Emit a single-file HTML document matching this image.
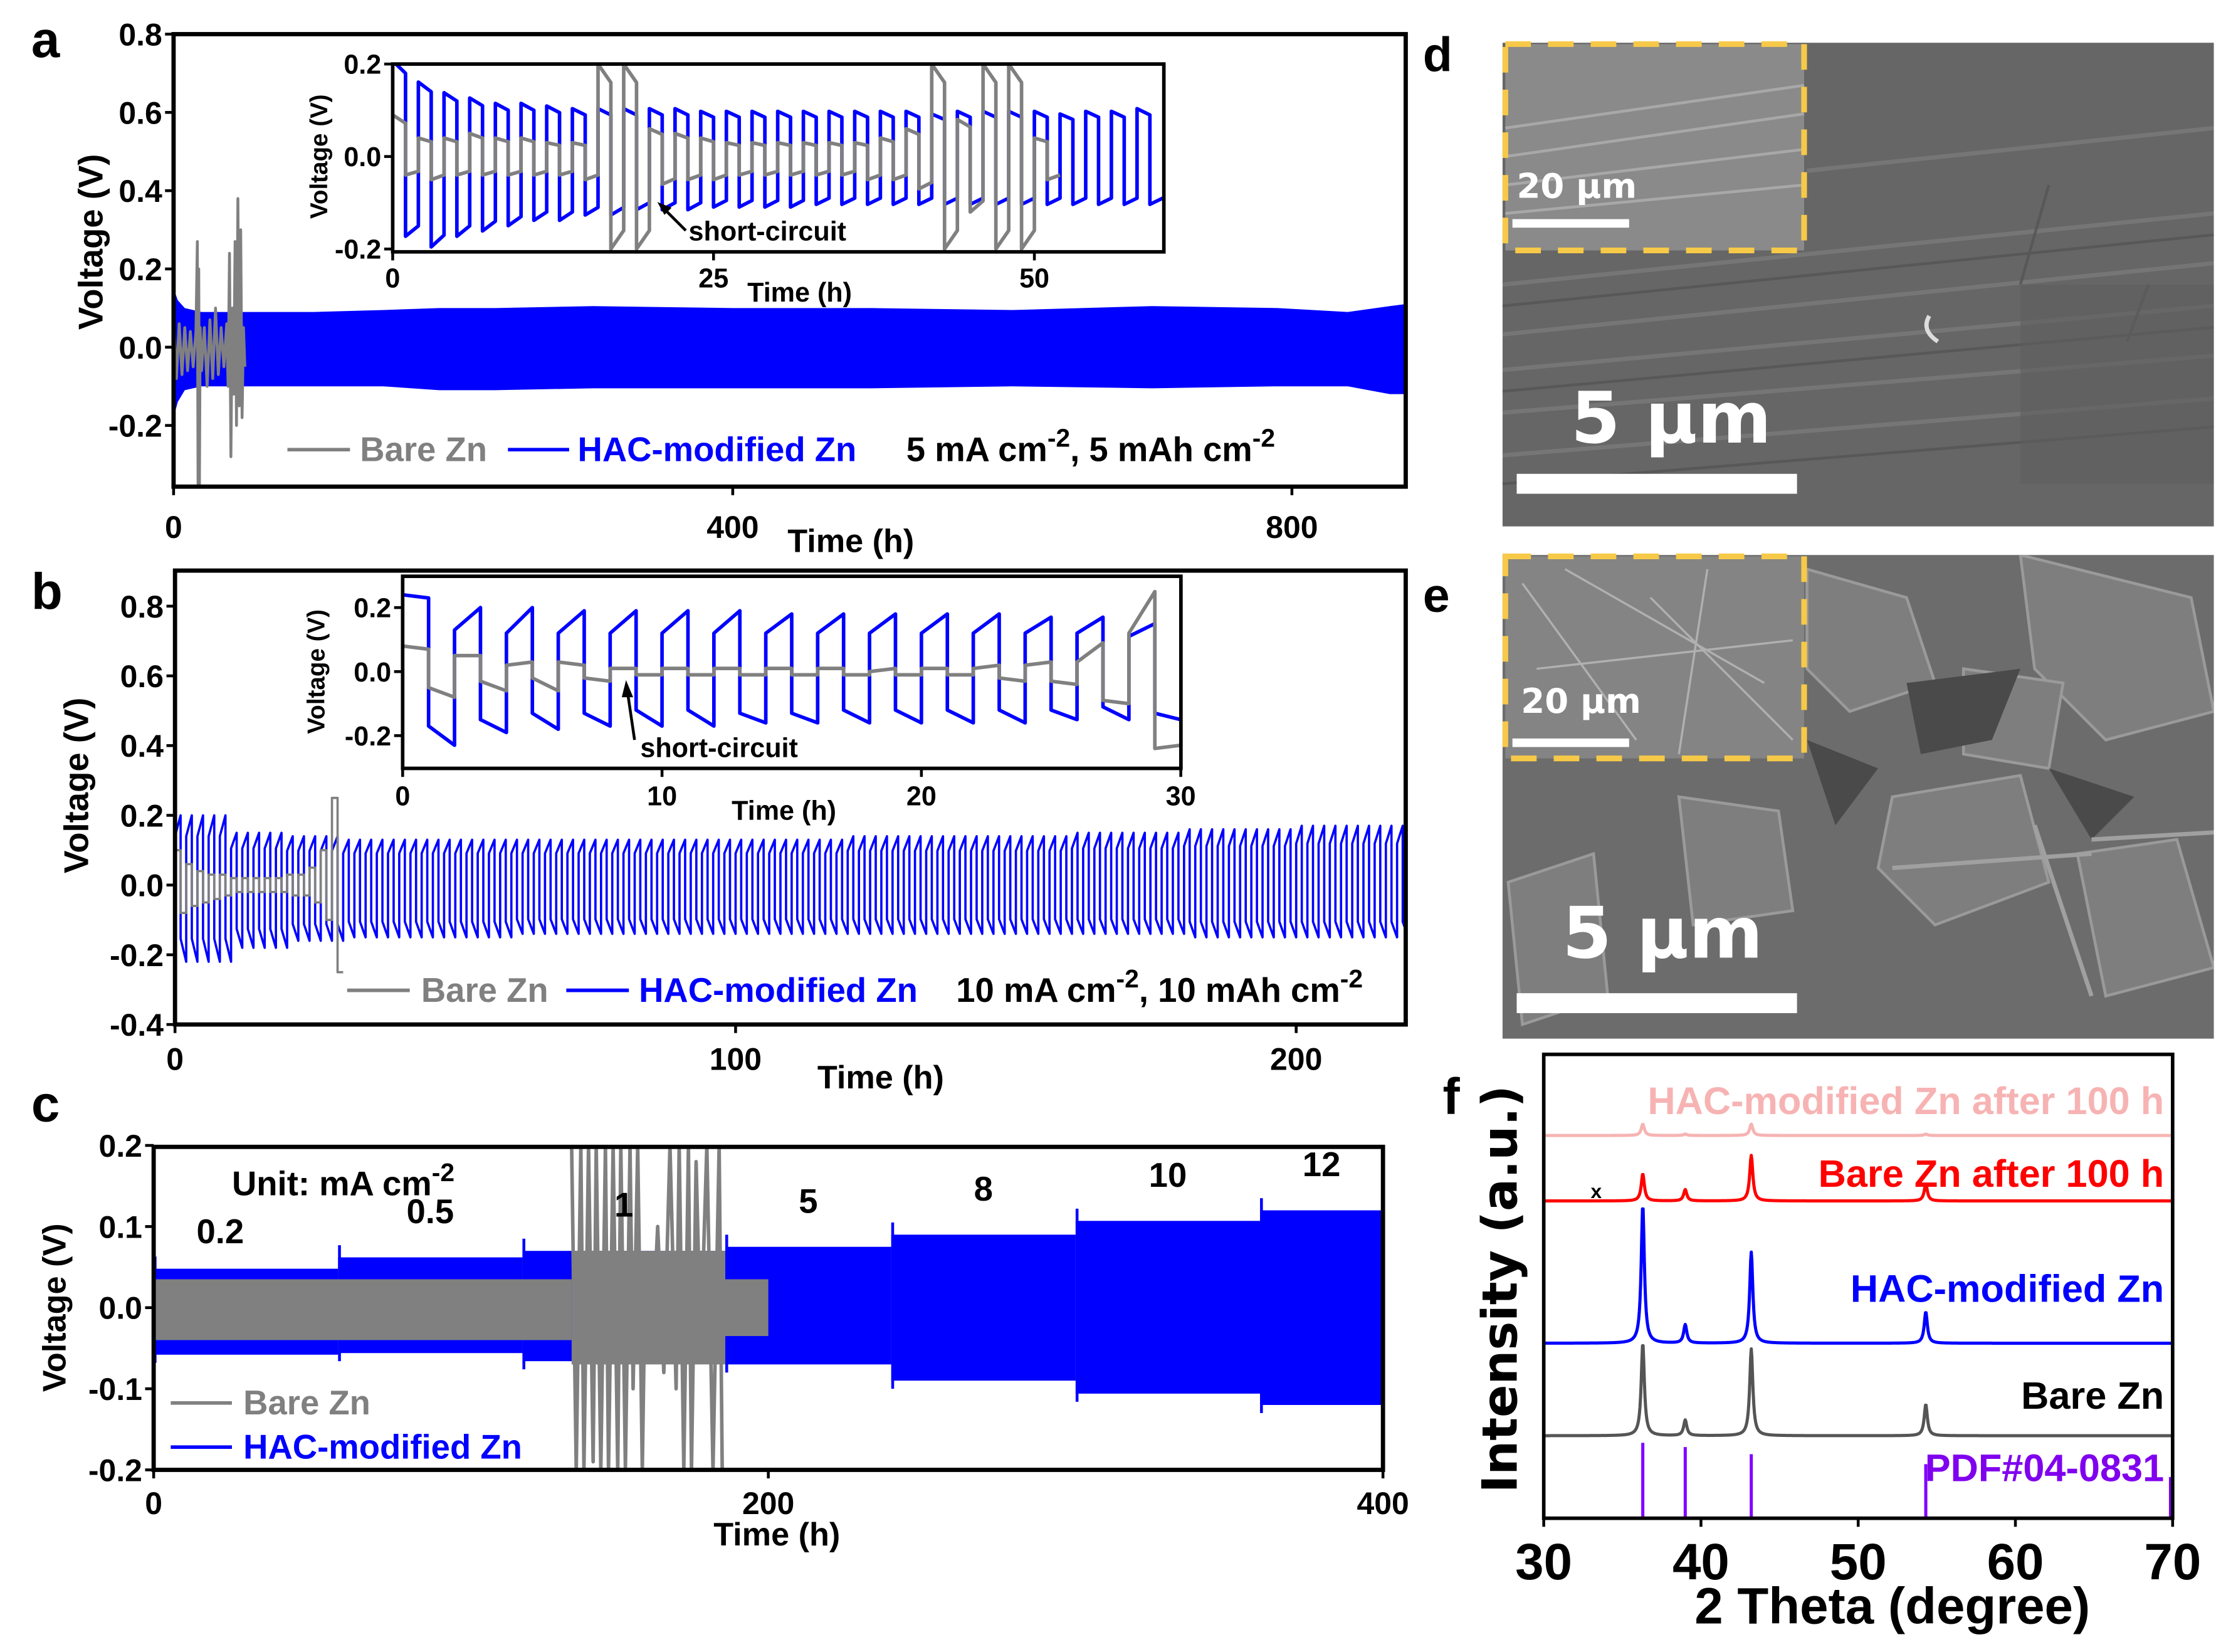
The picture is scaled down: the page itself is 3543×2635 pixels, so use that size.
<!DOCTYPE html>
<html><head><meta charset="utf-8"><style>
html,body{margin:0;padding:0;background:#fff;}
svg{display:block;}
text{font-family:"Liberation Sans",sans-serif;font-weight:bold;}
.n{font-family:"Liberation Sans Narrow","Liberation Sans",sans-serif;}
.v{font-family:"DejaVu Sans","Liberation Sans",sans-serif;}
</style></head><body>
<svg id="fig" xmlns="http://www.w3.org/2000/svg" width="3543" height="2635" viewBox="0 0 1561 1161" preserveAspectRatio="none">
<rect x="0" y="0" width="1561" height="1161" fill="#fff"/>
<defs>
<clipPath id="clipA"><rect x="122" y="24" width="866" height="318"/></clipPath>
<clipPath id="clipAi"><rect x="276" y="45" width="542" height="132"/></clipPath>
<clipPath id="clipB"><rect x="123" y="401" width="865" height="319"/></clipPath>
<clipPath id="clipBi"><rect x="283" y="405" width="547" height="135"/></clipPath>
<clipPath id="clipC"><rect x="108" y="806" width="864" height="227"/></clipPath>
<clipPath id="clipF"><rect x="1085" y="741" width="442" height="326"/></clipPath>
<clipPath id="clipD"><rect x="1056" y="30" width="500" height="340"/></clipPath>
<clipPath id="clipE"><rect x="1056" y="390" width="500" height="340"/></clipPath>
</defs>

<!-- SEM d -->
<g clip-path="url(#clipD)">
<rect x="1056" y="30" width="500" height="340" fill="#666"/>
<g stroke="#7a7a7a" stroke-width="3" fill="none" opacity="0.8">
<path d="M1056 200 L1556 150"/><path d="M1056 235 L1556 185"/><path d="M1056 260 L1556 215"/><path d="M1056 290 L1556 250"/><path d="M1056 320 L1556 280"/><path d="M1270 120 L1556 90"/>
</g>
<g stroke="#555" stroke-width="2" fill="none" opacity="0.8">
<path d="M1056 215 L1556 165"/><path d="M1056 275 L1556 230"/><path d="M1056 340 L1556 300"/><path d="M1440 130 L1420 200"/><path d="M1510 200 L1495 240"/>
</g>
<rect x="1420" y="200" width="136" height="140" fill="#5e5e5e" opacity="0.6"/>
<path d="M1356 222 q-6 10 6 18" stroke="#ddd" stroke-width="3" fill="none"/>
</g>
<g>
<rect x="1058" y="31" width="210" height="145" fill="#8a8a8a"/>
<g stroke="#a8a8a8" stroke-width="2" fill="none"><path d="M1058 90 L1268 60"/><path d="M1058 110 L1268 80"/><path d="M1058 130 L1268 105"/><path d="M1058 150 L1268 130"/></g>
<rect x="1058" y="31" width="210" height="145" fill="none" stroke="#f7c948" stroke-width="4" stroke-dasharray="18 12"/>
<text class="v" x="1066" y="139" font-size="24" fill="#fff">20 μm</text>
<rect x="1063" y="154" width="82" height="6" fill="#fff"/>
</g>
<text class="v" x="1104" y="311" font-size="50" fill="#fff">5 μm</text>
<rect x="1066" y="333" width="197" height="14" fill="#fff"/>
<text x="1000" y="50" font-size="34" fill="#000">d</text>

<!-- SEM e -->
<g clip-path="url(#clipE)">
<rect x="1056" y="390" width="500" height="340" fill="#6c6c6c"/>
<g fill="#7e7e7e" stroke="#9a9a9a" stroke-width="2">
<path d="M1270 400 L1340 420 L1360 480 L1300 500 L1270 470Z"/>
<path d="M1420 390 L1540 420 L1556 500 L1480 520 L1430 470Z"/>
<path d="M1330 560 L1420 545 L1440 620 L1360 650 L1320 610Z"/>
<path d="M1460 600 L1530 590 L1556 680 L1480 700Z"/>
<path d="M1180 560 L1250 570 L1260 640 L1190 650Z"/>
<path d="M1060 620 L1120 600 L1130 700 L1070 720Z"/>
<path d="M1380 470 L1450 480 L1440 540 L1380 530Z"/>
</g>
<g fill="#4a4a4a"><path d="M1340 480 L1420 470 L1400 520 L1350 530Z"/><path d="M1270 520 L1320 540 L1290 580Z"/><path d="M1440 540 L1500 560 L1470 590Z"/></g>
<g stroke="#a0a0a0" stroke-width="3"><path d="M1430 580 L1470 700"/><path d="M1330 610 L1470 600"/><path d="M1470 590 L1556 585"/></g>
</g>
<g>
<rect x="1058" y="391" width="210" height="142" fill="#848484"/>
<g stroke="#b0b0b0" stroke-width="1.5" fill="none"><path d="M1070 410 L1150 520"/><path d="M1100 400 L1240 480"/><path d="M1160 420 L1260 520"/><path d="M1080 470 L1260 450"/><path d="M1200 400 L1180 530"/></g>
<rect x="1058" y="391" width="210" height="142" fill="none" stroke="#f7c948" stroke-width="4" stroke-dasharray="18 12"/>
<text class="v" x="1069" y="501" font-size="24" fill="#fff">20 μm</text>
<rect x="1063" y="519" width="82" height="6" fill="#fff"/>
</g>
<text class="v" x="1098" y="673" font-size="50" fill="#fff">5 μm</text>
<rect x="1066" y="698" width="197" height="14" fill="#fff"/>
<text x="1000" y="430" font-size="34" fill="#000">e</text>

<!-- Panel a -->
<g id="pa">
<text x="22" y="40" font-size="36">a</text>
<g id="aData" clip-path="url(#clipA)"></g>
<rect x="122" y="24" width="866" height="318" fill="none" stroke="#000" stroke-width="3"/>
<g id="aTicks" class="n" font-size="22"></g>
<text class="n" x="598" y="388" font-size="23" text-anchor="middle">Time (h)</text>
<text x="72" y="170" font-size="24" text-anchor="middle" transform="rotate(-90 72 170)">Voltage (V)</text>
<rect x="276" y="45" width="542" height="132" fill="#fff"/>
<g id="aiData" clip-path="url(#clipAi)"></g>
<rect x="276" y="45" width="542" height="132" fill="none" stroke="#000" stroke-width="2.5"/>
<g id="aiTicks" class="n" font-size="19"></g>
<text class="n" x="562" y="212" font-size="19" text-anchor="middle">Time (h)</text>
<text x="230" y="110" font-size="17" text-anchor="middle" transform="rotate(-90 230 110)">Voltage (V)</text>
<text class="n" x="484" y="169" font-size="19">short-circuit</text>
<path d="M482 162 L466 146" stroke="#000" stroke-width="2"/>
<path d="M462 142 L472 146 L467 151Z" fill="#000"/>
<g>
<line x1="202" y1="316" x2="246" y2="316" stroke="#808080" stroke-width="2.5"/>
<text class="n" x="253" y="324" font-size="24" fill="#808080">Bare Zn</text>
<line x1="357" y1="316" x2="400" y2="316" stroke="#0000ff" stroke-width="2.5"/>
<text class="n" x="406" y="324" font-size="24" fill="#0000ff">HAC-modified Zn</text>
<text class="n" x="637" y="324" font-size="24">5 mA cm<tspan dy="-10" font-size="18">-2</tspan><tspan dy="10">, 5 mAh cm</tspan><tspan dy="-10" font-size="18">-2</tspan></text>
</g>
</g>

<!-- Panel b -->
<g id="pb">
<text x="22" y="428" font-size="36">b</text>
<g id="bData" clip-path="url(#clipB)"></g>
<rect x="123" y="401" width="865" height="319" fill="none" stroke="#000" stroke-width="3"/>
<g id="bTicks" class="n" font-size="22"></g>
<text class="n" x="619" y="765" font-size="23" text-anchor="middle">Time (h)</text>
<text x="62" y="552" font-size="24" text-anchor="middle" transform="rotate(-90 62 552)">Voltage (V)</text>
<rect x="283" y="405" width="547" height="135" fill="#fff"/>
<g id="biData" clip-path="url(#clipBi)"></g>
<rect x="283" y="405" width="547" height="135" fill="none" stroke="#000" stroke-width="2.5"/>
<g id="biTicks" class="n" font-size="19"></g>
<text class="n" x="551" y="576" font-size="19" text-anchor="middle">Time (h)</text>
<text x="228" y="472" font-size="17" text-anchor="middle" transform="rotate(-90 228 472)">Voltage (V)</text>
<text class="n" x="450" y="532" font-size="19">short-circuit</text>
<path d="M446 520 L441 486" stroke="#000" stroke-width="2"/>
<path d="M440 478 L445 490 L437 490Z" fill="#000"/>
<g>
<line x1="244" y1="696" x2="288" y2="696" stroke="#808080" stroke-width="2.5"/>
<text class="n" x="296" y="704" font-size="24" fill="#808080">Bare Zn</text>
<line x1="398" y1="696" x2="442" y2="696" stroke="#0000ff" stroke-width="2.5"/>
<text class="n" x="449" y="704" font-size="24" fill="#0000ff">HAC-modified Zn</text>
<text class="n" x="672" y="704" font-size="24">10 mA cm<tspan dy="-10" font-size="18">-2</tspan><tspan dy="10">, 10 mAh cm</tspan><tspan dy="-10" font-size="18">-2</tspan></text>
</g>
</g>

<!-- Panel c -->
<g id="pc">
<text x="22" y="788" font-size="36">c</text>
<g id="cData" clip-path="url(#clipC)"></g>
<rect x="108" y="806" width="864" height="227" fill="none" stroke="#000" stroke-width="3"/>
<g id="cTicks" class="n" font-size="22"></g>
<text class="n" x="546" y="1086" font-size="23" text-anchor="middle">Time (h)</text>
<text x="46" y="919" font-size="23" text-anchor="middle" transform="rotate(-90 46 919)">Voltage (V)</text>
<text class="n" x="163" y="840" font-size="24">Unit: mA cm<tspan dy="-10" font-size="18">-2</tspan></text>
<g id="cRateLabels" class="n" font-size="24"></g>
<g>
<line x1="120" y1="986" x2="163" y2="986" stroke="#808080" stroke-width="2.5"/>
<text class="n" x="171" y="994" font-size="24" fill="#808080">Bare Zn</text>
<line x1="120" y1="1017" x2="163" y2="1017" stroke="#0000ff" stroke-width="2.5"/>
<text class="n" x="171" y="1025" font-size="24" fill="#0000ff">HAC-modified Zn</text>
</g>
</g>

<!-- Panel f -->
<g id="pf">
<text x="1014" y="783" font-size="36">f</text>
<g id="fData" clip-path="url(#clipF)"></g>
<rect x="1085" y="741" width="442" height="326" fill="none" stroke="#000" stroke-width="2.5"/>
<g id="fTicks" font-size="36"></g>
<text x="1330" y="1141" font-size="36" text-anchor="middle">2 Theta (degree)</text>
<text class="v" x="1066" y="906" font-size="34" text-anchor="middle" transform="rotate(-90 1066 906)">Intensity (a.u.)</text>
<g id="fLabels" font-size="27"></g>
<text x="1118" y="842" font-size="14">x</text>
</g>

<script>
const NS='http://www.w3.org/2000/svg';
function mk(tag,parent){const e=document.createElementNS(NS,tag);document.getElementById(parent).appendChild(e);return e;}
function lin(d0,d1,r0,r1){return v=>r0+(v-d0)*(r1-r0)/(d1-d0);}

/* ---------- Panel a data ---------- */
const aEnvTime=[0,3,8,20,50,100,150,190,230,300,400,500,600,700,790,840,870,881];
const aEnvUpper=[0.15,0.12,0.1,0.09,0.09,0.09,0.095,0.1,0.1,0.105,0.1,0.1,0.095,0.105,0.1,0.09,0.105,0.11];
const aEnvLower=[-0.18,-0.14,-0.11,-0.1,-0.1,-0.1,-0.1,-0.11,-0.11,-0.105,-0.105,-0.105,-0.1,-0.105,-0.1,-0.1,-0.12,-0.12];
const aBareTime=[0,2,4,6,8,10,12,14,16,17,17.5,18,18.5,19,20,22,24,26,28,30,32,34,36,38,39,40,41,42,43,44,45,46,47,48,49,50,51];
const aBareVolt=[0.07,-0.08,0.06,-0.07,0.05,-0.06,0.04,-0.05,0.04,0.27,-0.35,0.2,-0.35,0.05,-0.06,0.05,-0.1,0.07,-0.08,0.1,-0.07,0.05,-0.05,0.06,-0.1,0.24,-0.28,0.1,-0.12,0.27,-0.2,0.38,-0.15,0.3,-0.18,0.05,-0.05];
const aInsetHigh=[0.18,0.14,0.12,0.11,0.1,0.1,0.095,0.09,0.09,0.09,0.09,0.09,0.085,0.085,0.085,0.085,0.085,0.085,0.085,0.085,0.085,0.08,0.085,0.085,0.085,0.085,0.08,0.085,0.085,0.09];
const aInsetLow=[-0.15,-0.17,-0.15,-0.14,-0.13,-0.12,-0.12,-0.11,-0.11,-0.1,-0.1,-0.1,-0.095,-0.095,-0.095,-0.095,-0.09,-0.09,-0.09,-0.09,-0.09,-0.09,-0.09,-0.09,-0.09,-0.09,-0.09,-0.09,-0.09,-0.09];
const aInsetBareHigh=[0.09,0.04,0.04,0.05,0.04,0.04,0.03,0.03,0.2,0.2,0.06,0.05,0.04,0.03,0.03,0.03,0.03,0.03,0.03,0.04,0.06,0.2,0.08,0.2,0.2,0.04];
const aInsetBareLow=[-0.04,-0.05,-0.04,-0.04,-0.04,-0.04,-0.04,-0.05,-0.2,-0.2,-0.06,-0.05,-0.05,-0.04,-0.04,-0.04,-0.04,-0.04,-0.05,-0.05,-0.07,-0.2,-0.12,-0.2,-0.2,-0.05];
const aYTicks=[0.8,0.6,0.4,0.2,0.0,-0.2];
const aXTicks=[0,400,800];
const aiYTicks=[0.2,0.0,-0.2];
const aiXTicks=[0,25,50];

/* ---------- Panel b data ---------- */
const bBlockHigh=[0.2,0.15,0.14,0.13,0.13,0.13,0.13,0.13,0.13,0.13,0.13,0.13,0.14,0.14,0.14,0.14,0.15,0.15,0.16,0.16,0.17,0.17];
const bBlockLow=[-0.22,-0.18,-0.16,-0.15,-0.15,-0.15,-0.14,-0.14,-0.14,-0.14,-0.14,-0.14,-0.14,-0.14,-0.14,-0.14,-0.14,-0.14,-0.15,-0.15,-0.15,-0.15];
const bBareHigh=[0.1,0.06,0.04,0.03,0.03,0.02,0.02,0.02,0.02,0.02,0.03,0.03,0.05,0.1,0.25];
const bBareLow=[-0.08,-0.06,-0.05,-0.04,-0.03,-0.02,-0.02,-0.02,-0.02,-0.02,-0.03,-0.03,-0.05,-0.1,-0.25];
const biHighStart=[0.24,0.13,0.12,0.12,0.12,0.12,0.12,0.12,0.12,0.12,0.12,0.12,0.12,0.12,0.11];
const biHighEnd=[0.23,0.2,0.2,0.19,0.19,0.19,0.19,0.18,0.18,0.18,0.18,0.18,0.17,0.17,0.15];
const biLowStart=[-0.17,-0.15,-0.13,-0.13,-0.12,-0.12,-0.13,-0.13,-0.12,-0.12,-0.12,-0.12,-0.12,-0.11,-0.13];
const biLowEnd=[-0.23,-0.19,-0.18,-0.17,-0.17,-0.17,-0.16,-0.16,-0.16,-0.16,-0.16,-0.16,-0.15,-0.15,-0.15];
const biBareStart=[0.08,-0.05,0.05,-0.03,0.02,-0.02,0.03,-0.02,0.01,-0.01,0.01,-0.01,0.01,-0.01,0.01,-0.01,0.01,-0.01,0.0,-0.01,0.01,-0.01,0.01,-0.02,0.02,-0.03,0.03,-0.09,0.12,-0.24];
const biBareEnd=[0.07,-0.08,0.05,-0.06,0.03,-0.06,0.02,-0.03,0.01,-0.01,0.01,-0.01,0.01,-0.01,0.01,-0.01,0.01,-0.01,0.01,-0.01,0.01,-0.01,0.02,-0.03,0.03,-0.04,0.09,-0.1,0.25,-0.23];
const bYTicks=[0.8,0.6,0.4,0.2,0.0,-0.2,-0.4];
const bXTicks=[0,100,200];
const biYTicks=[0.2,0.0,-0.2];
const biXTicks=[0,10,20,30];

/* ---------- Panel c data ---------- */
const cSegStart=[0,60,120,186,240,300,360];
const cSegEnd=[60,120,186,240,300,360,400];
const cSegUpper=[0.048,0.062,0.07,0.075,0.09,0.107,0.12];
const cSegLower=[-0.058,-0.056,-0.066,-0.07,-0.09,-0.106,-0.12];
const cRateNames=['0.2','0.5','1','5','8','10','12'];
const cBareBandStart=[0,136,186];
const cBareBandEnd=[136,186,200];
const cBareBandUpper=[0.035,0.07,0.035];
const cBareBandLower=[-0.04,-0.07,-0.035];
const cChaosTime=[136,137.5,139,140,141.5,143,144,145.5,147,148,149.5,151,152,153.5,155,156,157.5,159,160,162,164,166,168,170,171,172.5,174,175,176.5,178,180,182,184,185];
const cChaosVolt=[0.2,-0.2,0.2,-0.2,0.2,-0.19,0.2,-0.2,0.2,-0.2,0.2,-0.2,0.2,-0.2,0.2,-0.1,0.2,-0.2,0.06,-0.06,0.1,-0.08,0.2,-0.1,0.2,-0.2,0.2,-0.2,0.18,-0.05,0.2,-0.2,0.2,-0.2];
const cYTicks=[0.2,0.1,0.0,-0.1,-0.2];
const cXTicks=[0,200,400];

/* ---------- Panel f data ---------- */
const fPeakPos=[36.3,39.0,43.2,54.3];
const fPinkHeights=[8,1,8,1];
const fRedHeights=[19,8,32,12];
const fBlueHeights=[97,13,64,22];
const fGrayHeights=[65,11,61,22];
const fStickPos=[36.3,39.0,43.2,54.3,70.0];
const fStickHeights=[53,50,45,38,29];
const fXTicks=[30,40,50,60,70];

/* ---------- helpers ---------- */
function yTicks(gid,vals,ys,xLeft,fs,fmt){vals.forEach(v=>{const t=mk('line',gid);t.setAttribute('x1',xLeft-6);t.setAttribute('x2',xLeft);t.setAttribute('y1',ys(v));t.setAttribute('y2',ys(v));t.setAttribute('stroke','#000');t.setAttribute('stroke-width','2');


const l=mk('text',gid);l.setAttribute('x',xLeft-8);l.setAttribute('y',ys(v)+fs*0.36);l.setAttribute('text-anchor','end');l.textContent=fmt(v);

});}
function xTicks(gid,vals,xs,yBot,ly,fmt){vals.forEach(v=>{const t=mk('line',gid);t.setAttribute('x1',xs(v));t.setAttribute('x2',xs(v));t.setAttribute('y1',yBot);t.setAttribute('y2',yBot+6);t.setAttribute('stroke','#000');t.setAttribute('stroke-width','2');


const l=mk('text',gid);l.setAttribute('x',xs(v));l.setAttribute('y',ly);l.setAttribute('text-anchor','middle');l.textContent=fmt(v);

});}
const f1=v=>v.toFixed(1), f0=v=>String(v);
function pathLine(gid,d,color,w){const p=mk('path',gid);p.setAttribute('d',d);p.setAttribute('fill','none');p.setAttribute('stroke',color);p.setAttribute('stroke-width',w);p.setAttribute('stroke-linejoin','round');return p;}
function cycleWave(starts,ends,xs,ys){let d='';starts.forEach((s,i)=>{d+=(i?'L':'M')+xs(i).toFixed(2)+' '+ys(s).toFixed(2)+'L'+xs(i+1).toFixed(2)+' '+ys(ends[i]).toFixed(2);});return d;}

/* ---------- draw a ---------- */
{const xs=lin(0,400,122,515),ys=lin(0,0.2,244,189);
let d='M'+xs(aEnvTime[0])+' '+ys(aEnvUpper[0]);aEnvTime.forEach((t,i)=>d+='L'+xs(t)+' '+ys(aEnvUpper[i]));
for(let i=aEnvTime.length-1;i>=0;i--)d+='L'+xs(aEnvTime[i])+' '+ys(aEnvLower[i]);d+='Z';
const band=mk('path','aData');band.setAttribute('d',d);band.setAttribute('fill','#0000ff');


let g='';aBareTime.forEach((t,i)=>g+=(i?'L':'M')+xs(t)+' '+ys(aBareVolt[i]));
const gp=pathLine('aData',g,'#808080',2);


yTicks('aTicks',aYTicks,ys,122,22,f1);xTicks('aTicks',aXTicks,xs,342,378,f0);}
{const xs=lin(0,25,276,501.5),ys=lin(0,0.2,110,45);
let s=[],e=[];aInsetHigh.forEach((h,i)=>{s.push(h*1.15);e.push(h);s.push(aInsetLow[i]*1.15);e.push(aInsetLow[i]);});
const bp=pathLine('aiData',cycleWave(s,e,i=>xs(i),ys),'#0000ff',2.5);


let gs=[],ge=[];aInsetBareHigh.forEach((h,i)=>{gs.push(h);ge.push(h*0.8);gs.push(aInsetBareLow[i]);ge.push(aInsetBareLow[i]*0.8);});
const gp=pathLine('aiData',cycleWave(gs,ge,i=>xs(i),ys),'#808080',2.5);


yTicks('aiTicks',aiYTicks,ys,276,19,f1);xTicks('aiTicks',aiXTicks,xs,177,202,f0);}

/* ---------- draw b ---------- */
{const xs=lin(0,100,123,517),ys=lin(0,0.2,622,573);
let s=[],e=[];for(let c=0;c<110;c++){const h=bBlockHigh[Math.floor(c/5)],l=bBlockLow[Math.floor(c/5)];s.push(h*0.7);e.push(h);s.push(l*0.7);e.push(l);}
const bp=pathLine('bData',cycleWave(s,e,xs,ys),'#0000ff',1.6);


let gs=[],ge=[];bBareHigh.forEach((h,i)=>{gs.push(h);ge.push(h);gs.push(bBareLow[i]);ge.push(bBareLow[i]);});
const gp=pathLine('bData',cycleWave(gs,ge,xs,ys),'#808080',1.6);


yTicks('bTicks',bYTicks,ys,123,22,f1);xTicks('bTicks',bXTicks,xs,720,752,f0);}
{const xs=lin(0,10,283,465.3),ys=lin(0,0.2,472,427);
let s=[],e=[];biHighStart.forEach((h,i)=>{s.push(h);e.push(biHighEnd[i]);s.push(biLowStart[i]);e.push(biLowEnd[i]);});
const bp=pathLine('biData',cycleWave(s,e,xs,ys),'#0000ff',2.5);


const gp=pathLine('biData',cycleWave(biBareStart,biBareEnd,xs,ys),'#808080',2.5);


yTicks('biTicks',biYTicks,ys,283,19,f1);xTicks('biTicks',biXTicks,xs,540,566,f0);}

/* ---------- draw c ---------- */
{const xs=lin(0,200,108,540),ys=lin(0,0.1,919,862);
cSegStart.forEach((s,i)=>{const r=mk('rect','cData');r.setAttribute('x',xs(s));r.setAttribute('width',xs(cSegEnd[i])-xs(s));r.setAttribute('y',ys(cSegUpper[i]));r.setAttribute('height',ys(cSegLower[i])-ys(cSegUpper[i]));r.setAttribute('fill','#0000ff');


const sp=mk('line','cData');sp.setAttribute('x1',xs(s)+1);sp.setAttribute('x2',xs(s)+1);sp.setAttribute('y1',ys(cSegUpper[i]+0.015));sp.setAttribute('y2',ys(cSegLower[i]-0.01));sp.setAttribute('stroke','#0000ff');sp.setAttribute('stroke-width','2');


const lb=mk('text','cRateLabels');lb.setAttribute('x',xs((s+cSegEnd[i])/2)+(i===0?-18:0));lb.setAttribute('y',ys(cSegUpper[i])-(i===0?18:24));lb.setAttribute('text-anchor','middle');lb.textContent=cRateNames[i];

});
cBareBandStart.forEach((s,i)=>{const r=mk('rect','cData');r.setAttribute('x',xs(s));r.setAttribute('width',xs(cBareBandEnd[i])-xs(s));r.setAttribute('y',ys(cBareBandUpper[i]));r.setAttribute('height',ys(cBareBandLower[i])-ys(cBareBandUpper[i]));r.setAttribute('fill','#808080');

});
let g='';cChaosTime.forEach((t,i)=>g+=(i?'L':'M')+xs(t)+' '+ys(cChaosVolt[i]));
const gp=pathLine('cData',g,'#808080',2.5);


yTicks('cTicks',cYTicks,ys,108,22,f1);xTicks('cTicks',cXTicks,xs,1033,1064,f0);}

/* ---------- draw f ---------- */
{const xs=lin(30,70,1085,1527);
function trace(base,heights,color,name){let d='';for(let th=30;th<=70.001;th+=0.04){let v=0;fPeakPos.forEach((p,i)=>{const w=0.12;v+=heights[i]/(1+((th-p)/w)**2);});d+=(d?'L':'M')+xs(th).toFixed(2)+' '+(base-v).toFixed(2);}
const p=pathLine('fData',d,color,2.2);

}
trace(798,fPinkHeights,'#f7b3b3','xrd-hac-after-100h');
trace(844,fRedHeights,'#ff0000','xrd-bare-after-100h');
trace(944,fBlueHeights,'#0000ff','xrd-hac-modified');
trace(1009,fGrayHeights,'#555555','xrd-bare');
fStickPos.forEach((p,i)=>{const l=mk('line','fData');l.setAttribute('x1',xs(p)-(p>=70?1.5:0));l.setAttribute('x2',xs(p)-(p>=70?1.5:0));l.setAttribute('y1',1067);l.setAttribute('y2',1067-fStickHeights[i]);l.setAttribute('stroke','#8000ff');l.setAttribute('stroke-width','2.2');

});
fXTicks.forEach(v=>{const t=mk('line','fTicks');t.setAttribute('x1',xs(v));t.setAttribute('x2',xs(v));t.setAttribute('y1',1067);t.setAttribute('y2',1073);t.setAttribute('stroke','#000');t.setAttribute('stroke-width','2');


const l=mk('text','fTicks');l.setAttribute('x',xs(v));l.setAttribute('y',1110);l.setAttribute('text-anchor','middle');l.textContent=v;

});
const labs=[['HAC-modified Zn after 100 h','#f7b3b3',783],['Bare Zn after 100 h','#ff0000',834],['HAC-modified Zn','#0000ff',915],['Bare Zn','#000',990],['PDF#04-0831','#8000ee',1041]];
labs.forEach(a=>{const t=mk('text','fLabels');t.setAttribute('x',1521);t.setAttribute('y',a[2]);t.setAttribute('text-anchor','end');t.setAttribute('fill',a[1]);t.textContent=a[0];

});}
</script>
</svg>
</body></html>
